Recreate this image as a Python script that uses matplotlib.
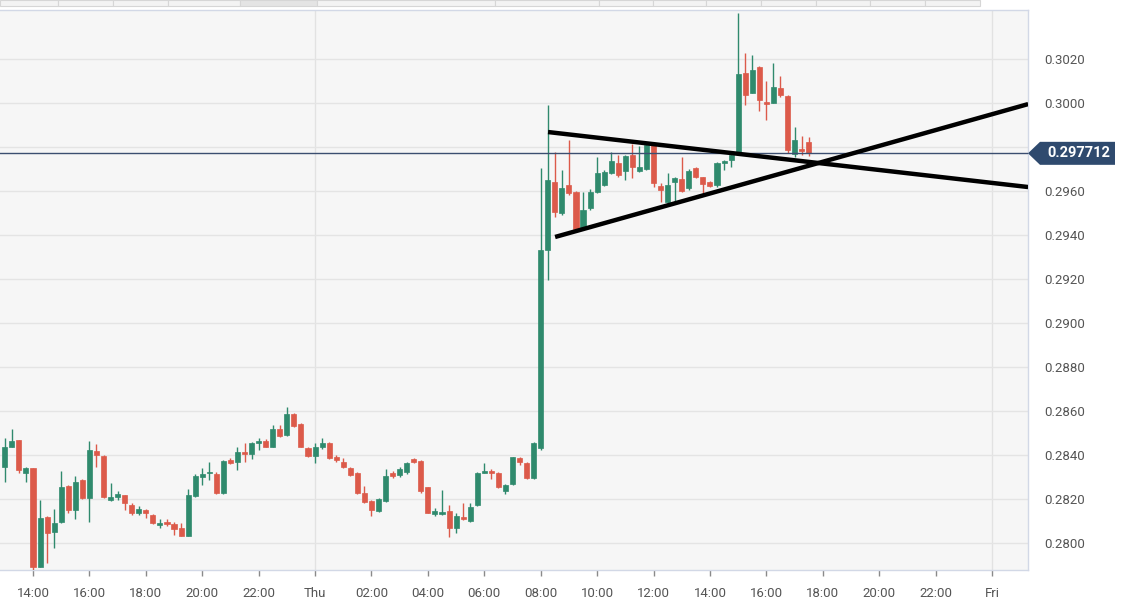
import numpy as np
import matplotlib
matplotlib.use('Agg')
import matplotlib.pyplot as plt
from matplotlib.patches import Rectangle, Polygon
import matplotlib.transforms as mtransforms

plt.rcParams['font.family'] = ['Roboto', 'DejaVu Sans']

# 15 minute candles, first one at Wed 13:00 (hours counted from Wed 00:00)
t_start = 13.0
t_step = 0.25

# prices in units of 1e-4
opens = [2834.4, 2843.8, 2846.8, 2832.0, 2833.9, 2789.2, 2811.7, 2805.1, 2809.7, 2825.9,
         2815.0, 2828.6, 2820.3, 2842.0, 2839.5, 2819.5, 2821.0, 2821.7, 2817.3, 2813.8,
         2815.0, 2812.7, 2808.3, 2809.7, 2808.6, 2806.7, 2803.2, 2821.4, 2830.2, 2831.7,
         2831.4, 2822.9, 2837.7, 2837.0, 2841.5, 2840.5, 2845.3, 2846.5, 2843.8, 2851.7,
         2849.1, 2858.6, 2854.1, 2843.0, 2839.5, 2843.5, 2845.3, 2839.2, 2837.0, 2833.9,
         2832.0, 2822.9, 2819.2, 2814.7, 2819.2, 2832.0, 2830.9, 2832.4, 2838.4, 2837.4,
         2825.3, 2813.2, 2813.2, 2814.7, 2806.7, 2812.0, 2810.1, 2817.3, 2832.0, 2832.9,
         2832.0, 2823.8, 2826.8, 2838.5, 2836.5, 2829.4, 2843.0, 2933.2, 2964.2, 2949.8,
         2962.7, 2959.7, 2943.0, 2952.1, 2959.7, 2962.7, 2968.0, 2972.5, 2969.2, 2976.3,
         2969.2, 2969.8, 2980.9, 2962.2, 2955.1, 2964.2, 2965.3, 2961.2, 2970.3, 2966.2,
         2964.2, 2962.7, 2972.5, 2974.1, 2977.9, 3013.8, 3004.7, 3016.2, 3000.6, 3000.1,
         3006.6, 3003.2, 2976.8, 2979.0, 2982.4]
highs = [2847.6, 2851.7, 2847.0, 2834.7, 2834.0, 2819.5, 2812.3, 2815.3, 2832.9, 2826.2,
         2830.4, 2829.0, 2846.5, 2845.0, 2840.0, 2827.4, 2823.8, 2822.0, 2818.0, 2816.8,
         2815.3, 2813.0, 2810.8, 2810.8, 2809.7, 2808.9, 2824.4, 2831.4, 2833.9, 2837.0,
         2832.4, 2837.7, 2838.5, 2843.8, 2845.3, 2846.1, 2847.6, 2847.1, 2853.6, 2853.6,
         2861.7, 2859.0, 2854.7, 2843.8, 2845.3, 2847.6, 2846.1, 2840.0, 2838.5, 2834.7,
         2832.4, 2825.9, 2819.5, 2820.3, 2833.5, 2832.9, 2834.7, 2837.0, 2838.6, 2837.7,
         2825.6, 2815.7, 2824.1, 2817.3, 2813.5, 2818.0, 2818.3, 2832.4, 2836.2, 2833.5,
         2832.4, 2826.8, 2839.2, 2838.9, 2837.0, 2846.1, 2970.3, 2999.1, 2977.9, 2969.5,
         2983.0, 2960.0, 2959.7, 2960.7, 2975.3, 2969.5, 2977.9, 2976.3, 2976.3, 2981.3,
         2980.4, 2981.5, 2981.0, 2963.8, 2968.0, 2966.2, 2975.3, 2969.8, 2970.7, 2966.5,
         2964.7, 2973.3, 2974.1, 2976.8, 3040.7, 3022.6, 3021.8, 3016.8, 3010.1, 3018.3,
         3012.3, 3003.5, 2988.9, 2985.0, 2984.7]
lows = [2827.9, 2843.5, 2832.0, 2827.9, 2787.7, 2789.0, 2790.8, 2797.6, 2808.9, 2813.8,
        2810.7, 2820.0, 2809.7, 2834.7, 2820.6, 2819.2, 2819.5, 2815.0, 2812.7, 2812.7,
        2811.2, 2808.6, 2806.7, 2807.7, 2803.6, 2803.0, 2803.0, 2820.8, 2826.4, 2828.6,
        2822.3, 2822.3, 2835.9, 2833.2, 2837.0, 2838.0, 2842.3, 2843.5, 2843.5, 2848.3,
        2848.6, 2852.8, 2843.5, 2839.2, 2836.5, 2842.6, 2838.0, 2837.0, 2833.9, 2830.5,
        2822.3, 2818.0, 2812.3, 2814.2, 2818.8, 2829.4, 2830.1, 2831.3, 2836.3, 2822.9,
        2813.5, 2812.3, 2812.7, 2802.9, 2804.4, 2810.4, 2809.7, 2816.8, 2831.6, 2828.9,
        2824.8, 2822.3, 2826.3, 2835.4, 2828.9, 2828.9, 2842.3, 2919.5, 2948.3, 2949.1,
        2958.4, 2942.2, 2942.5, 2951.3, 2959.2, 2962.4, 2967.7, 2966.2, 2965.0, 2965.7,
        2968.8, 2969.5, 2961.6, 2955.1, 2954.4, 2955.1, 2959.7, 2960.4, 2965.7, 2958.9,
        2961.6, 2961.9, 2969.5, 2971.0, 2977.1, 2999.1, 3004.4, 2996.5, 2992.3, 2999.8,
        3002.9, 2977.1, 2975.6, 2976.5, 2975.9]
closes = [2843.5, 2846.5, 2833.2, 2833.9, 2789.2, 2811.2, 2804.7, 2809.2, 2825.6, 2815.0,
          2827.9, 2820.3, 2842.3, 2840.0, 2821.0, 2820.8, 2822.3, 2818.0, 2813.8, 2815.3,
          2813.5, 2808.9, 2808.9, 2808.6, 2806.2, 2803.2, 2821.8, 2830.5, 2831.4, 2832.4,
          2822.9, 2837.4, 2836.2, 2841.5, 2840.5, 2845.3, 2846.5, 2843.8, 2851.7, 2848.6,
          2858.6, 2853.2, 2843.8, 2839.5, 2843.8, 2845.6, 2838.5, 2837.7, 2834.4, 2830.9,
          2822.9, 2818.8, 2815.0, 2819.8, 2830.4, 2830.4, 2833.5, 2836.5, 2836.6, 2823.8,
          2813.8, 2814.7, 2814.2, 2806.7, 2812.3, 2810.7, 2816.2, 2832.0, 2832.9, 2831.6,
          2825.3, 2826.3, 2838.9, 2837.0, 2829.4, 2845.6, 2933.2, 2965.0, 2950.6, 2961.2,
          2958.9, 2942.5, 2951.3, 2959.7, 2968.0, 2968.8, 2973.8, 2967.2, 2975.9, 2970.7,
          2971.0, 2980.9, 2963.5, 2960.4, 2962.7, 2965.7, 2960.1, 2969.2, 2966.5, 2963.2,
          2962.2, 2972.5, 2973.8, 2976.3, 3013.2, 3003.6, 3015.0, 3001.3, 2999.5, 3007.1,
          3003.6, 2978.6, 2983.2, 2978.0, 2977.12]

last_price = 0.297712

# hand drawn trend lines (time in hours, price)
trend_down_t = [32.26, 49.28]
trend_down_p = [0.29868, 0.29618]
trend_up_t = [32.51, 49.28]
trend_up_p = [0.29391, 0.29995]

xtick_pos = list(range(14, 49, 2))
xtick_labels = ['14:00', '16:00', '18:00', '20:00', '22:00', 'Thu', '02:00', '04:00', '06:00',
                '08:00', '10:00', '12:00', '14:00', '16:00', '18:00', '20:00', '22:00', 'Fri']
ytick_pos = [0.2800, 0.2820, 0.2840, 0.2860, 0.2880, 0.2900, 0.2920, 0.2940,
             0.2960, 0.2980, 0.3000, 0.3020]

o = np.array(opens) / 10000
h = np.array(highs) / 10000
l = np.array(lows) / 10000
c = np.array(closes) / 10000
t = t_start + t_step * np.arange(len(o))

green = '#2f8a6d'
red = '#dc5a4a'

fig = plt.figure(figsize=(11.36, 5.99), dpi=100)
ax = fig.add_axes([0, 1 - 570 / 599, 1028 / 1136, 560 / 599])
ax.set_facecolor('#f6f6f6')

for ti, oi, hi, li, ci in zip(t, o, h, l, c):
    col = green if ci >= oi else red
    ax.vlines(ti, li, hi, color=col, linewidth=1, zorder=3)
    body = max(abs(ci - oi), 0.000012)
    ax.add_patch(Rectangle((ti - 0.09, min(oi, ci)), 0.18, body,
                           facecolor=col, edgecolor=col, linewidth=0.5, zorder=4))

ax.axhline(last_price, color='#3b4e70', linewidth=1, zorder=5)
ax.plot(trend_down_t, trend_down_p, color='black', linewidth=3.2, solid_capstyle='butt', zorder=6)
ax.plot(trend_up_t, trend_up_p, color='black', linewidth=3.2, solid_capstyle='butt', zorder=6)

ax.set_xlim(12.83, 49.276)
ax.set_ylim(0.278773, 0.304227)

ax.set_xticks(xtick_pos)
ax.set_xticklabels(xtick_labels)
ax.set_yticks(ytick_pos)
ax.set_yticklabels([f'{v:.4f}' for v in ytick_pos])
ax.yaxis.tick_right()
ax.grid(axis='y', color='#e4e4e4', linewidth=1, zorder=0)
for d in (24, 48):
    ax.axvline(d, color='#e2e2e2', linewidth=1, zorder=0)
ax.set_axisbelow(True)

ax.tick_params(axis='x', length=4, width=1, color='#8a8a8a', labelsize=9.5,
               labelcolor='#555555', pad=8)
ax.tick_params(axis='y', length=0, labelsize=9.5, labelcolor='#555555', pad=12)

for side in ('left',):
    ax.spines[side].set_visible(False)
for side in ('top', 'bottom', 'right'):
    ax.spines[side].set_color('#d2d8e6')
    ax.spines[side].set_linewidth(1)

# last price tag on the right axis
trans = mtransforms.blended_transform_factory(ax.transAxes, ax.transData)
w_px = 1136 * 1028 / 1136
x0 = 1.0
x1 = 1 + 12 / w_px
x2 = 1 + 87 / w_px
dy = 11.5 / 22000
tag = Polygon([(x0, last_price), (x1, last_price + dy), (x2, last_price + dy),
               (x2, last_price - dy), (x1, last_price - dy)], closed=True,
              facecolor='#2f4a6e', edgecolor='none', transform=trans, clip_on=False, zorder=10)
ax.add_artist(tag)
ax.text((x1 + x2) / 2 + 0.001, last_price, f'{last_price:.6f}', transform=trans,
        color='white', fontsize=10.5, fontweight='bold', ha='center', va='center',
        clip_on=False, zorder=11)

# tab strip at the very top
tab_edges = [0, 58, 113, 168, 240, 317, 495, 599, 653, 706, 761, 816, 870, 925, 980]
for i in range(len(tab_edges) - 1):
    a, b = tab_edges[i], tab_edges[i + 1]
    fc = '#e4e4e4' if a == 240 else '#f3f3f3'
    fig.patches.append(Rectangle((a / 1136, 1 - 6 / 599), (b - a) / 1136, 6 / 599,
                                 transform=fig.transFigure, facecolor=fc,
                                 edgecolor='#d6d6d6', linewidth=0.8))

fig.savefig('out.png', dpi=100)
